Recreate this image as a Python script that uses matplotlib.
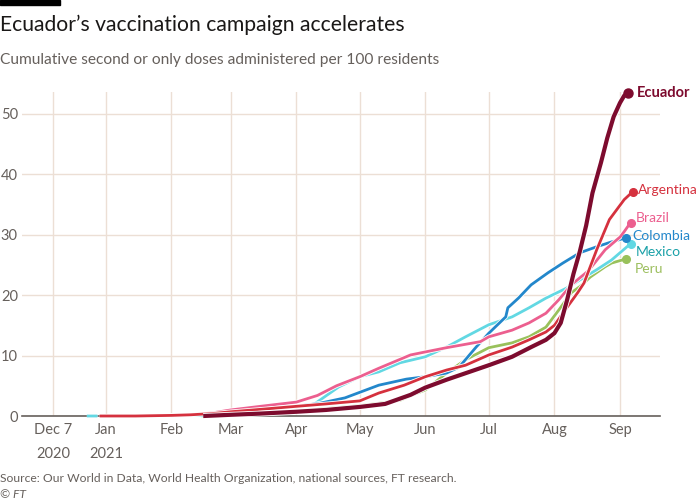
import numpy as np
import pandas as pd
import matplotlib
matplotlib.use("Agg")
import matplotlib.pyplot as plt
import matplotlib.patheffects as pe
from matplotlib.patches import Rectangle

plt.rcParams['font.family'] = ['Lato', 'DejaVu Sans']

# Cumulative second or only doses per 100 residents
ecuador_dates = ['2021-02-16', '2021-03-01', '2021-03-15', '2021-04-01', '2021-04-15', '2021-05-01',
                 '2021-05-13', '2021-05-25', '2021-06-01', '2021-06-11', '2021-06-21', '2021-07-01',
                 '2021-07-12', '2021-07-21', '2021-07-28', '2021-08-01', '2021-08-04', '2021-08-07',
                 '2021-08-10', '2021-08-13', '2021-08-16', '2021-08-19', '2021-08-23', '2021-08-26',
                 '2021-08-29', '2021-09-01', '2021-09-03', '2021-09-05']
ecuador_vals = [0.0, 0.2, 0.4, 0.7, 1.0, 1.5, 2.0, 3.5, 4.7, 6.0, 7.2, 8.4, 9.8, 11.4, 12.6, 13.7,
                15.4, 19.2, 23.5, 27.2, 31.5, 36.9, 41.9, 46.0, 49.5, 51.8, 53.0, 53.5]

argentina_dates = ['2020-12-29', '2021-01-15', '2021-02-01', '2021-02-10', '2021-02-20', '2021-03-01',
                   '2021-03-15', '2021-04-01', '2021-04-15', '2021-05-01', '2021-05-10', '2021-05-22',
                   '2021-06-01', '2021-06-11', '2021-06-20', '2021-07-01', '2021-07-12', '2021-07-20',
                   '2021-07-28', '2021-08-01', '2021-08-06', '2021-08-12', '2021-08-15', '2021-08-21',
                   '2021-08-27', '2021-09-03', '2021-09-07']
argentina_vals = [0.0, 0.0, 0.1, 0.2, 0.4, 0.7, 1.1, 1.6, 2.0, 2.5, 3.8, 5.1, 6.5, 7.6, 8.4, 10.1,
                  11.4, 12.6, 13.9, 15.0, 17.5, 20.4, 22.0, 27.5, 32.5, 35.8, 37.1]

brazil_dates = ['2021-02-01', '2021-02-10', '2021-02-20', '2021-03-01', '2021-03-15', '2021-04-01',
                '2021-04-11', '2021-04-20', '2021-05-01', '2021-05-10', '2021-05-25', '2021-06-01',
                '2021-06-11', '2021-06-27', '2021-07-01', '2021-07-12', '2021-07-20', '2021-07-28',
                '2021-08-03', '2021-08-09', '2021-08-17', '2021-08-25', '2021-09-01', '2021-09-03',
                '2021-09-06']
brazil_vals = [0.05, 0.2, 0.5, 1.0, 1.6, 2.3, 3.4, 5.0, 6.5, 7.9, 10.1, 10.6, 11.3, 12.3, 13.1, 14.2,
               15.4, 17.0, 19.2, 21.7, 24.0, 27.5, 29.6, 30.5, 32.0]

colombia_dates = ['2021-03-05', '2021-04-01', '2021-04-12', '2021-04-24', '2021-05-10', '2021-05-23',
                  '2021-06-01', '2021-06-11', '2021-06-17', '2021-06-25', '2021-07-01', '2021-07-09',
                  '2021-07-10', '2021-07-15', '2021-07-21', '2021-07-29', '2021-08-05', '2021-08-13',
                  '2021-08-21', '2021-08-28', '2021-09-04']
colombia_vals = [0.8, 1.6, 2.1, 3.0, 5.1, 6.1, 6.5, 7.1, 8.1, 11.4, 13.7, 16.4, 17.9, 19.5, 21.7,
                 23.7, 25.3, 27.0, 28.0, 28.8, 29.5]

# Mexico has gaps in the reported series
mexico_dates = ['2020-12-23', '2020-12-28', '2020-12-29', '2021-02-03', '2021-02-16', '2021-02-17',
                '2021-04-10', '2021-04-21', '2021-05-01', '2021-05-10', '2021-05-20', '2021-06-01',
                '2021-06-11', '2021-06-20', '2021-07-01', '2021-07-12', '2021-07-20', '2021-07-28',
                '2021-08-07', '2021-08-13', '2021-08-21', '2021-08-28', '2021-09-06']
mexico_vals = [0.0, 0.0, None, 0.05, 0.1, None, 2.1, 4.8, 6.5, 7.3, 8.8, 9.8, 11.4, 13.1, 15.1,
               16.4, 17.9, 19.5, 21.2, 22.5, 24.2, 25.8, 28.5]

peru_dates = ['2021-02-15', '2021-03-01', '2021-04-01', '2021-05-01', '2021-05-10', '2021-05-20',
              '2021-05-26', '2021-06-01', '2021-06-11', '2021-06-20', '2021-07-01', '2021-07-12',
              '2021-07-20', '2021-07-28', '2021-08-03', '2021-08-09', '2021-08-13', '2021-08-18',
              '2021-08-25', '2021-08-28', '2021-09-04']
peru_vals = [0.0, 0.2, 0.8, 1.7, 2.1, 2.6, 3.5, 4.3, 7.1, 9.3, 11.3, 12.1, 13.1, 14.7, 17.5, 20.4,
             21.4, 23.0, 24.7, 25.3, 26.0]

tick_dates = ['2020-12-07', '2021-01-01', '2021-02-01', '2021-03-01', '2021-04-01', '2021-05-01',
              '2021-06-01', '2021-07-01', '2021-08-01', '2021-09-01']
tick_labels = ['Dec 7\n2020', 'Jan\n2021', 'Feb', 'Mar', 'Apr', 'May', 'Jun', 'Jul', 'Aug', 'Sep']

# name, dates, values, line colour, label colour, width, label offset (pt), weight
series = [
    ('Peru', peru_dates, peru_vals, '#99c15b', '#9cbf5e', 2.0, (6, -7), 'normal'),
    ('Mexico', mexico_dates, mexico_vals, '#62d8e3', '#1aa1a8', 2.0, (4, -6), 'normal'),
    ('Colombia', colombia_dates, colombia_vals, '#2387cb', '#2387cb', 2.0, (4, 1), 'normal'),
    ('Brazil', brazil_dates, brazil_vals, '#ec5f8f', '#ec5f8f', 2.0, (4, 3), 'normal'),
    ('Argentina', argentina_dates, argentina_vals, '#d5313e', '#d5313e', 2.0, (4, 1), 'normal'),
    ('Ecuador', ecuador_dates, ecuador_vals, '#7d0b2e', '#7d0b2e', 3.0, (6, 0), 'bold'),
]

GRID = '#ecdfd5'
GREY = '#66605c'

fig = plt.figure(figsize=(7, 5), dpi=100)
fig.patch.set_facecolor('white')
ax = fig.add_axes([22 / 700, 1 - 416 / 500, 638 / 700, 324 / 500])

for name, dates, vals, color, lcolor, lw, off, weight in series:
    d = pd.to_datetime(dates)
    v = np.array([np.nan if x is None else x for x in vals], dtype=float)
    ax.plot(d, v, color=color, linewidth=lw, solid_capstyle='butt', solid_joinstyle='round',
            clip_on=False, zorder=3,
            path_effects=[pe.Stroke(linewidth=lw + 1.2, foreground='white'), pe.Normal()])
    ax.plot(d[-1], v[-1], 'o', color=color, markersize=6.5 if weight == 'bold' else 5.5,
            clip_on=False, zorder=4)
    ax.annotate(name, (d[-1], v[-1]), xytext=off, textcoords='offset points',
                color=lcolor, fontsize=10.5 if weight == 'bold' else 10, fontweight=weight,
                va='center', ha='left', annotation_clip=False)

ax.set_xlim(pd.Timestamp('2020-11-22 08:00'), pd.Timestamp('2021-09-19 22:00'))
ax.set_ylim(0, 53.6)
ax.set_yticks([0, 10, 20, 30, 40, 50])
ax.set_xticks(pd.to_datetime(tick_dates))
ax.set_xticklabels(tick_labels, linespacing=1.9, va='top')

ax.grid(True, color=GRID, linewidth=1.0, zorder=0)
ax.set_axisbelow(True)
for s in ['top', 'right', 'left']:
    ax.spines[s].set_visible(False)
ax.spines['bottom'].set_color(GREY)
ax.spines['bottom'].set_linewidth(1.2)
ax.spines['bottom'].set_zorder(2)
ax.tick_params(axis='both', length=0, labelsize=10.5, labelcolor=GREY)
ax.tick_params(axis='x', pad=5)
ax.tick_params(axis='y', pad=3)

# header and footer
fig.add_artist(Rectangle((0, 1 - 4.5 / 500), 60 / 700, 4.5 / 500, transform=fig.transFigure,
                         color='black', clip_on=False))
fig.text(0, 1 - 25 / 500, 'Ecuador’s vaccination campaign accelerates', fontsize=15.2,
         color='#1a1817', va='center', ha='left')
fig.text(0, 1 - 60 / 500, 'Cumulative second or only doses administered per 100 residents',
         fontsize=11.2, color=GREY, va='center', ha='left')
fig.text(0, 1 - 478 / 500, 'Source: Our World in Data, World Health Organization, national sources, FT research.',
         fontsize=8.7, color=GREY, va='center', ha='left')
fig.text(0, 1 - 494 / 500, '© FT', fontsize=8.7, color=GREY, va='center', ha='left', style='italic')

fig.savefig('out.png', dpi=100, facecolor='white')
